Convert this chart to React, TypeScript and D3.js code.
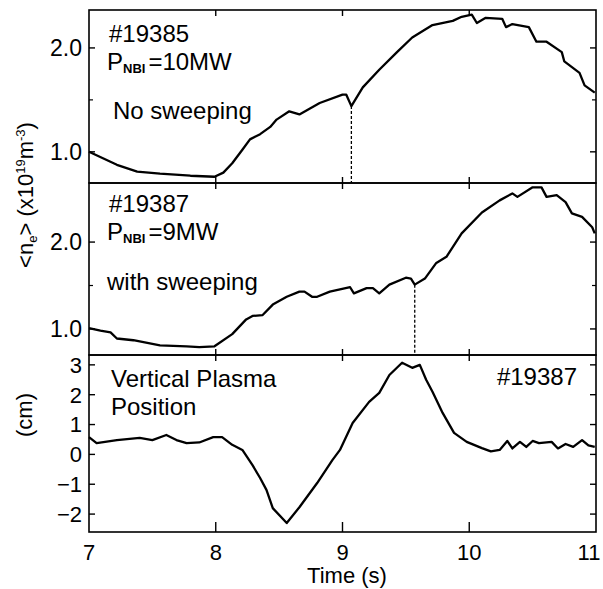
import React from "react";
import * as d3 from "d3";

const topT = [7.0,7.22,7.38,7.56,7.8,7.99,8.06,8.13,8.21,8.27,8.35,8.43,8.48,8.58,8.66,8.82,9.0,9.03,9.07,9.16,9.29,9.43,9.55,9.71,9.87,9.94,10.02,10.06,10.13,10.26,10.29,10.34,10.47,10.53,10.61,10.73,10.75,10.87,10.91,10.99];
const topV = [1.0,0.875,0.81,0.79,0.77,0.76,0.8,0.89,1.02,1.12,1.17,1.24,1.31,1.39,1.36,1.47,1.55,1.55,1.44,1.62,1.79,1.96,2.1,2.22,2.26,2.3,2.32,2.24,2.29,2.28,2.2,2.23,2.2,2.06,2.06,1.96,1.87,1.76,1.64,1.57];

const midT = [7.0,7.09,7.17,7.22,7.35,7.56,7.77,7.87,7.99,8.13,8.24,8.29,8.37,8.45,8.56,8.66,8.7,8.76,8.8,8.9,9.06,9.09,9.19,9.24,9.29,9.37,9.5,9.54,9.57,9.65,9.74,9.82,9.94,10.1,10.24,10.34,10.38,10.5,10.57,10.61,10.69,10.76,10.81,10.89,10.97,10.99];
const midV = [1.01,0.98,0.96,0.89,0.87,0.81,0.8,0.79,0.8,0.94,1.11,1.15,1.16,1.28,1.37,1.43,1.43,1.37,1.37,1.43,1.48,1.41,1.47,1.47,1.41,1.51,1.59,1.58,1.51,1.58,1.76,1.83,2.1,2.34,2.48,2.56,2.52,2.63,2.63,2.52,2.54,2.46,2.33,2.29,2.17,2.1];

const posT = [7.0,7.06,7.22,7.4,7.5,7.61,7.69,7.77,7.87,7.98,8.05,8.13,8.21,8.29,8.35,8.4,8.45,8.56,8.66,8.8,8.92,8.98,9.08,9.21,9.29,9.37,9.47,9.55,9.61,9.66,9.71,9.79,9.88,9.98,10.1,10.17,10.24,10.3,10.34,10.4,10.45,10.5,10.55,10.65,10.7,10.76,10.82,10.89,10.94,10.99];
const posV = [0.58,0.38,0.48,0.55,0.48,0.65,0.48,0.38,0.4,0.58,0.58,0.32,0.15,-0.36,-0.79,-1.19,-1.8,-2.3,-1.77,-0.96,-0.19,0.15,1.05,1.76,2.06,2.66,3.07,2.9,3.0,2.5,2.1,1.39,0.72,0.42,0.21,0.1,0.15,0.45,0.2,0.42,0.25,0.45,0.38,0.42,0.2,0.35,0.25,0.48,0.3,0.25];

const xTicks = [7, 8, 9, 10, 11];
const densTicks = [1.0, 2.0];
const densMinor = [1.5];
const posTicks = [-2, -1, 0, 1, 2, 3];
const dashTop = 9.07;
const dashMid = 9.57;

const FONT = "'Liberation Sans', Arial, sans-serif";

export default function App() {
  const L = 89, R = 596;
  const x = d3.scaleLinear().domain([7, 11]).range([L, R]);
  const yTop = d3.scaleLinear().domain([0.7, 2.365]).range([183, 10]);
  const yMid = d3.scaleLinear().domain([0.7, 2.68]).range([355, 183]);
  const yPos = d3.scaleLinear().domain([-2.6, 3.33]).range([532, 355]);

  const mk = (ys: d3.ScaleLinear<number, number>, T: number[], V: number[]) =>
    d3.line<number>().x((_, i) => x(T[i])).y((v) => ys(v)).curve(d3.curveLinear)(V) || "";

  const interp = (T: number[], V: number[], t: number) => {
    for (let i = 0; i < T.length - 1; i++) {
      if (t >= T[i] && t <= T[i + 1]) {
        const f = (t - T[i]) / (T[i + 1] - T[i]);
        return V[i] + f * (V[i + 1] - V[i]);
      }
    }
    return V[V.length - 1];
  };

  const panels = [
    { ys: yTop, ticks: densTicks, minor: densMinor, fmt: (v: number) => v.toFixed(1), top: 10, bottom: 183, fs: 23 },
    { ys: yMid, ticks: densTicks, minor: densMinor, fmt: (v: number) => v.toFixed(1), top: 183, bottom: 355, fs: 23 },
    { ys: yPos, ticks: posTicks, minor: [] as number[], fmt: (v: number) => (v < 0 ? "\u2212" + Math.abs(v) : String(v)), top: 355, bottom: 532, fs: 22 },
  ];

  return (
    <svg width={603} height={589} style={{ position: "absolute", left: 0, top: 0, background: "#fff" }} fontFamily={FONT}>
      <rect x={0} y={0} width={603} height={589} fill="#fff" />
      {panels.map((p, k) => (
        <g key={k}>
          <rect x={L} y={p.top} width={R - L} height={p.bottom - p.top} fill="none" stroke="#000" strokeWidth={1.6} />
          {p.ticks.map((t) => (
            <g key={t}>
              <line x1={L} x2={L + 6} y1={p.ys(t)} y2={p.ys(t)} stroke="#000" strokeWidth={1.4} />
              <line x1={R} x2={R - 6} y1={p.ys(t)} y2={p.ys(t)} stroke="#000" strokeWidth={1.4} />
              <text x={L - 7} y={p.ys(t)} dy="0.36em" textAnchor="end" fontSize={p.fs}>{p.fmt(t)}</text>
            </g>
          ))}
          {p.minor.map((t) => (
            <g key={"m" + t}>
              <line x1={L} x2={L + 4} y1={p.ys(t)} y2={p.ys(t)} stroke="#000" strokeWidth={1.2} />
              <line x1={R} x2={R - 4} y1={p.ys(t)} y2={p.ys(t)} stroke="#000" strokeWidth={1.2} />
            </g>
          ))}
          {xTicks.slice(1, -1).map((t) => (
            <g key={"x" + t}>
              <line x1={x(t)} x2={x(t)} y1={p.bottom} y2={p.bottom - (k === 2 ? 10 : 6)} stroke="#000" strokeWidth={1.4} />
              <line x1={x(t)} x2={x(t)} y1={p.top} y2={p.top + 6} stroke="#000" strokeWidth={1.4} />
            </g>
          ))}
        </g>
      ))}

      <path d={mk(yTop, topT, topV)} fill="none" stroke="#000" strokeWidth={2.3} strokeLinejoin="round" />
      <path d={mk(yMid, midT, midV)} fill="none" stroke="#000" strokeWidth={2.3} strokeLinejoin="round" />
      <path d={mk(yPos, posT, posV)} fill="none" stroke="#000" strokeWidth={2.3} strokeLinejoin="round" />

      <line x1={x(dashTop)} x2={x(dashTop)} y1={yTop(interp(topT, topV, dashTop))} y2={183} stroke="#000" strokeWidth={1.3} strokeDasharray="3,2" />
      <line x1={x(dashMid)} x2={x(dashMid)} y1={yMid(interp(midT, midV, dashMid))} y2={355} stroke="#000" strokeWidth={1.3} strokeDasharray="3,2" />

      {xTicks.map((t, i) => (
        <text key={t} x={i === xTicks.length - 1 ? x(t) - 7 : x(t)} y={560} textAnchor="middle" fontSize={22}>{t}</text>
      ))}
      <text x={347} y={583} textAnchor="middle" fontSize={22}>Time (s)</text>

      <text fontSize={24} x={109} y={42}>#19385</text>
      <text fontSize={24} x={107} y={70}>P<tspan fontSize={13} fontWeight="bold" dy={3}>NBI</tspan><tspan dy={-3} dx={3}>=10MW</tspan></text>
      <text fontSize={24} x={113} y={119}>No sweeping</text>

      <text fontSize={24} x={109} y={212}>#19387</text>
      <text fontSize={24} x={107} y={240}>P<tspan fontSize={13} fontWeight="bold" dy={3}>NBI</tspan><tspan dy={-3} dx={3}>=9MW</tspan></text>
      <text fontSize={24} x={107} y={290}>with sweeping</text>

      <text fontSize={24} x={111} y={387}>Vertical Plasma</text>
      <text fontSize={24} x={111} y={415}>Position</text>
      <text fontSize={24} x={577} y={385} textAnchor="end">#19387</text>

      <text fontSize={22} transform="translate(33,195) rotate(-90)" textAnchor="middle">
        &lt;n<tspan fontSize={13} dy={4}>e</tspan><tspan dy={-4}>&gt; (x10</tspan><tspan fontSize={13} dy={-8}>19</tspan><tspan dy={8}>m</tspan><tspan fontSize={13} dy={-8}>-3</tspan><tspan dy={8}>)</tspan>
      </text>
      <text fontSize={22} transform="translate(32,415) rotate(-90)" textAnchor="middle">(cm)</text>
    </svg>
  );
}
